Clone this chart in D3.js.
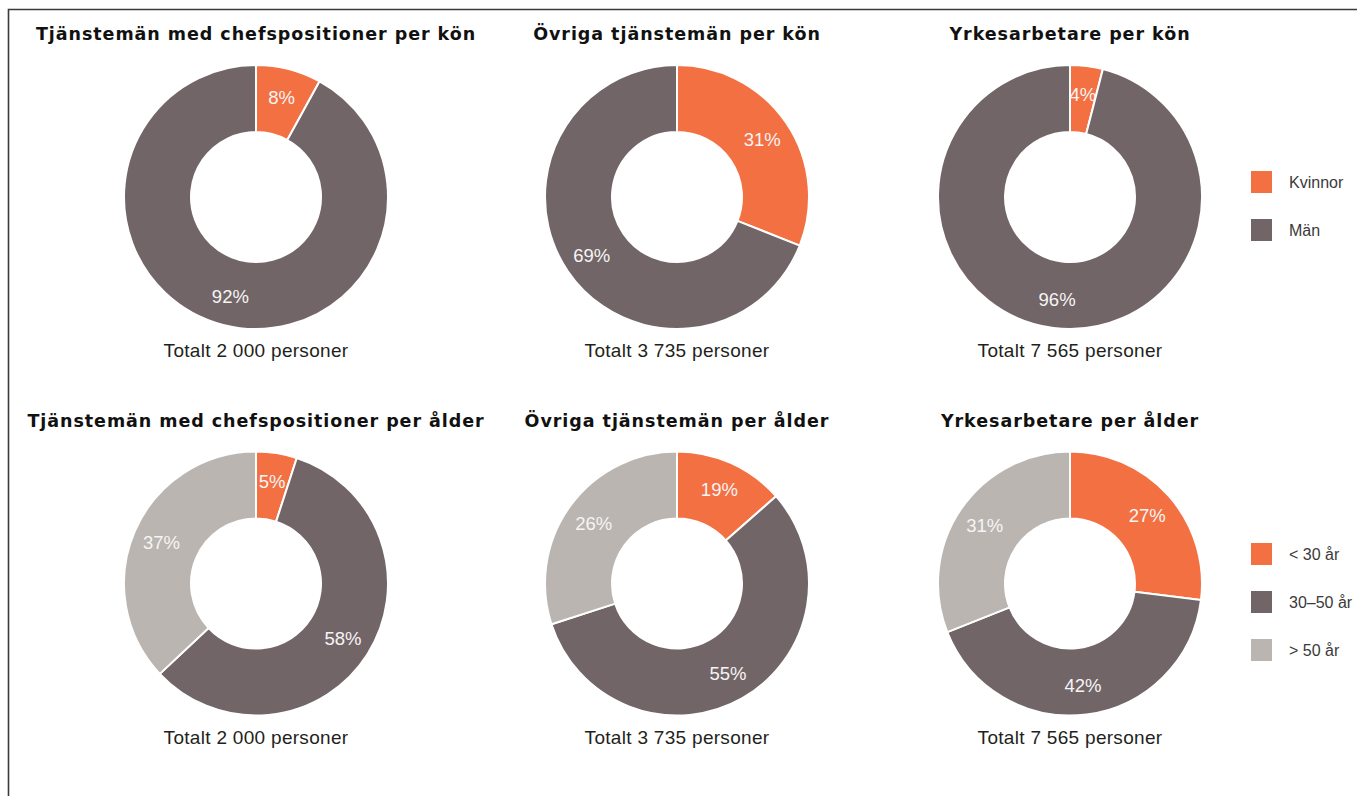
<!DOCTYPE html>
<html>
<head>
<meta charset="utf-8">
<script src="https://cdn.jsdelivr.net/npm/d3@7"></script>
<style>
  html, body { margin: 0; padding: 0; background: #fff; }
</style>
</head>
<body>
<div id="chart"></div>
<script>
// data
const genderKeys = ["Kvinnor", "Män"];
const ageKeys = ["< 30 år", "30–50 år", "> 50 år"];

const chefKon = [8, 92];
const ovrigaKon = [31, 69];
const yrkesKon = [4, 96];

const chefAlder = [5, 58, 37];
const ovrigaAlder = [19, 55, 26];
const yrkesAlder = [27, 42, 31];
// slice sizes as drawn for "Övriga tjänstemän per ålder" (the printed labels differ)
const ovrigaAlderDrawn = [13.5, 56.5, 30];

const totals = ["Totalt 2 000 personer", "Totalt 3 735 personer", "Totalt 7 565 personer"];
const titlesKon = ["Tjänstemän med chefspositioner per kön", "Övriga tjänstemän per kön", "Yrkesarbetare per kön"];
const titlesAlder = ["Tjänstemän med chefspositioner per ålder", "Övriga tjänstemän per ålder", "Yrkesarbetare per ålder"];

const colors = ["#f37042", "#716567", "#bab5b1"];

const width = 1357, height = 796;
const outerR = 132, innerR = 65, labelR = 103;

const svg = d3.select("#chart").append("svg")
    .attr("width", width)
    .attr("height", height)
    .attr("font-family", "'Liberation Sans', Arial, sans-serif");

// frame
svg.append("path")
    .attr("d", `M8.5,${height} V9.5 H${width}`)
    .attr("fill", "none")
    .attr("stroke", "#3a3a3a")
    .attr("stroke-width", 1.6);

const colX = d3.scaleOrdinal().domain([0, 1, 2]).range([256, 677, 1070]);
const rowY = d3.scaleOrdinal().domain([0, 1]).range([197, 583.5]);

const pie = d3.pie().sort(null).value(d => d.v);
const arc = d3.arc().innerRadius(innerR).outerRadius(outerR);
const labelArc = d3.arc().innerRadius(labelR).outerRadius(labelR);

const charts = [
  { row: 0, col: 0, title: titlesKon[0], total: totals[0], values: chefKon, labels: chefKon },
  { row: 0, col: 1, title: titlesKon[1], total: totals[1], values: ovrigaKon, labels: ovrigaKon },
  { row: 0, col: 2, title: titlesKon[2], total: totals[2], values: yrkesKon, labels: yrkesKon },
  { row: 1, col: 0, title: titlesAlder[0], total: totals[0], values: chefAlder, labels: chefAlder },
  { row: 1, col: 1, title: titlesAlder[1], total: totals[1], values: ovrigaAlderDrawn, labels: ovrigaAlder },
  { row: 1, col: 2, title: titlesAlder[2], total: totals[2], values: yrkesAlder, labels: yrkesAlder }
];

charts.forEach(c => {
  const cx = colX(c.col), cy = rowY(c.row);
  const g = svg.append("g").attr("transform", `translate(${cx},${cy})`);

  g.append("text")
      .attr("y", -157)
      .attr("text-anchor", "middle")
      .attr("font-family", "'DejaVu Sans', sans-serif")
      .attr("font-weight", "bold")
      .attr("font-size", 17.5)
      .attr("letter-spacing", 0.95)
      .attr("fill", "#111")
      .text(c.title);

  const arcs = pie(c.values.map((v, i) => ({ v, label: c.labels[i], i })));

  g.selectAll("path.slice")
    .data(arcs)
    .join("path")
      .attr("class", "slice")
      .attr("d", arc)
      .attr("fill", d => colors[d.data.i])
      .attr("stroke", "#fff")
      .attr("stroke-width", 2)
      .attr("stroke-linejoin", "round");

  g.selectAll("text.pct")
    .data(arcs)
    .join("text")
      .attr("class", "pct")
      .attr("transform", d => `translate(${labelArc.centroid(d)})`)
      .attr("dy", "0.36em")
      .attr("text-anchor", "middle")
      .attr("font-size", 18.5)
      .attr("fill", "#f7f4f4")
      .text(d => d.data.label + "%");

  g.append("text")
      .attr("y", 160)
      .attr("text-anchor", "middle")
      .attr("font-size", 19)
      .attr("letter-spacing", 0.3)
      .attr("fill", "#231f20")
      .text(c.total);
});

// legends
function legend(keys, y0) {
  const y = d3.scalePoint().domain(keys).range([y0, y0 + (keys.length - 1) * 48]);
  const lg = svg.append("g");
  keys.forEach((k, i) => {
    lg.append("rect")
        .attr("x", 1251).attr("y", y(k) - 11)
        .attr("width", 21).attr("height", 22)
        .attr("fill", colors[i]);
    lg.append("text")
        .attr("x", 1289).attr("y", y(k))
        .attr("dy", "0.35em")
        .attr("font-size", 16)
        .attr("fill", "#3a3a3a")
        .text(k);
  });
}
legend(genderKeys, 182);
legend(ageKeys, 554);
</script>
</body>
</html>
